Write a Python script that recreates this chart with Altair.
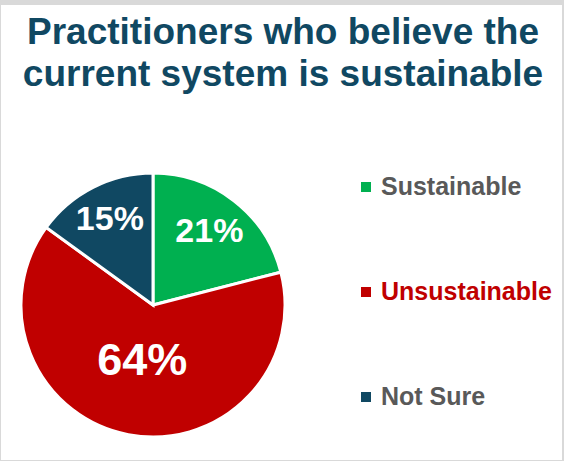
import altair as alt
import pandas as pd

# Survey answers, in the order the slices run clockwise from 12 o'clock
categories = ["Sustainable", "Unsustainable", "Not Sure"]
shares = [21, 64, 15]
slice_colors = ["#00B050", "#C00000", "#104862"]
legend_label_colors = ["#595959", "#C00000", "#595959"]
title_lines = ["Practitioners who believe the", "current system is sustainable"]

df = pd.DataFrame({
    "category": categories,
    "share": shares,
    "rank": list(range(len(categories))),
    "label_color": legend_label_colors,
})

FONT = "Liberation Sans"
CX, CY = 152, 300  # pie centre inside the view

color_scale = alt.Scale(domain=categories, range=slice_colors)

base = alt.Chart(df)

pie = base.mark_arc(radius=132, stroke="white", strokeWidth=3).encode(
    theta=alt.Theta("share:Q", stack=True),
    order=alt.Order("rank:Q"),
    color=alt.Color("category:N", scale=color_scale, legend=None),
    x=alt.value(CX),
    y=alt.value(CY),
)

# Percent labels sit at the middle angle of each slice
pie_labels = base.transform_stack(
    stack="share", groupby=[], as_=["s0", "s1"], sort=[alt.SortField("rank")]
).transform_calculate(
    mid="(datum.s0 + datum.s1) / 2",
    pct="datum.share + '%'",
    label_r="datum.category == 'Unsustainable' ? 57 : (datum.category == 'Sustainable' ? 92 : 95)",
    label_size="datum.category == 'Unsustainable' ? 45 : 34",
).mark_text(font=FONT, fontWeight="bold", color="white", baseline="middle", align="center").encode(
    theta=alt.Theta("mid:Q", stack=None),
    radius=alt.Radius("label_r:Q", scale=None),
    size=alt.Size("label_size:Q", scale=None, legend=None),
    text="pct:N",
    x=alt.value(CX),
    y=alt.value(CY),
)

legend_y = alt.Y("category:N", scale=alt.Scale(type="point", domain=categories, range=[182, 392], padding=0), axis=None)

legend_marks = base.mark_point(shape="square", filled=True, size=100, opacity=1).encode(
    x=alt.value(365),
    y=legend_y,
    color=alt.Color("category:N", scale=color_scale, legend=None),
)

legend_text = base.mark_text(font=FONT, fontWeight="bold", fontSize=25, align="left", baseline="middle").encode(
    x=alt.value(380),
    y=legend_y,
    text="category:N",
    color=alt.Color("label_color:N", scale=None),
)

title = alt.Chart(pd.DataFrame({"t": [0]})).mark_text(
    text=title_lines,
    font=FONT,
    fontWeight="bold",
    fontSize=37,
    lineHeight=42,
    color="#104862",
    align="center",
    baseline="alphabetic",
).encode(x=alt.value(282), y=alt.value(39))

chart = alt.layer(pie, pie_labels, legend_marks, legend_text, title).properties(
    width=561,
    height=455,
    padding={"top": 5, "left": 1, "right": 2, "bottom": 1},
    autosize=alt.AutoSizeParams(type="none"),
    background="#D9D9D9",
).configure_view(fill="white", stroke=None)

chart.save("out.html", embed_options={"renderer": "svg", "actions": False})
